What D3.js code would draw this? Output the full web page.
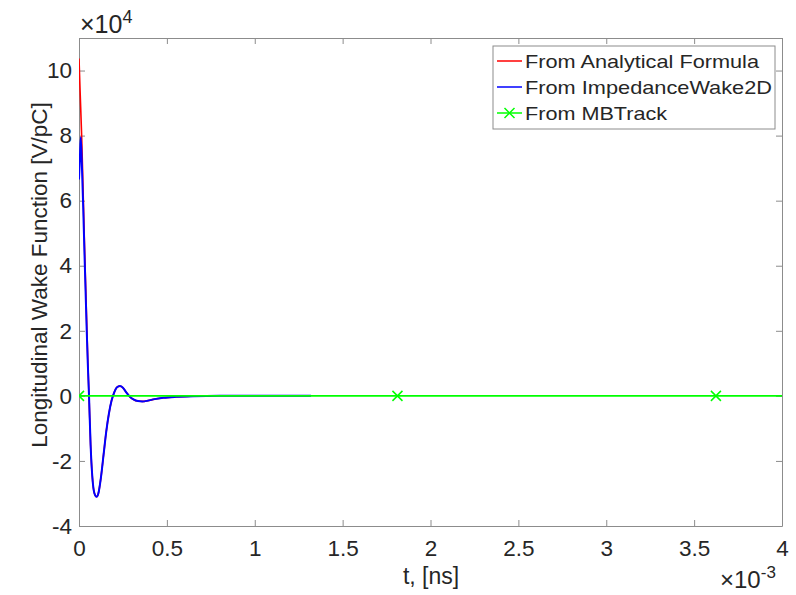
<!DOCTYPE html>
<html>
<head>
<meta charset="utf-8">
<script src="https://cdn.jsdelivr.net/npm/d3@7"></script>
<style>
    body { margin: 0; background: #fff; }
    text { font-family: "Liberation Sans", Arial, sans-serif; fill: #262626; }
</style>
</head>
<body>
<div id="chart"></div>
<script>
// time in units of 1e-3 ns, wake in units of 1e4 V/pC
const analyticalT = [0, 0.006, 0.015, 0.021, 0.028, 0.035, 0.043, 0.05, 0.057, 0.066, 0.076, 0.088, 0.1, 0.11, 0.125, 0.14, 0.155, 0.17, 0.185, 0.2, 0.215, 0.233, 0.25, 0.27, 0.29, 0.31, 0.335, 0.36, 0.39, 0.43, 0.48, 0.55, 0.65, 0.75];
const analyticalW = [10.37, 9.4, 8.0, 6.8, 5.3, 3.9, 2.4, 1.1, 0, -1.5, -2.5, -3.0, -3.1, -3.0, -2.5, -1.8, -1.1, -0.55, -0.15, 0.1, 0.26, 0.3, 0.25, 0.1, -0.03, -0.11, -0.16, -0.17, -0.15, -0.1, -0.06, -0.03, -0.01, 0];

const iw2dT = [0, 0.005, 0.01, 0.017, 0.024, 0.03, 0.037, 0.044, 0.05, 0.057, 0.066, 0.076, 0.088, 0.1, 0.11, 0.125, 0.14, 0.155, 0.17, 0.185, 0.2, 0.215, 0.233, 0.25, 0.27, 0.29, 0.31, 0.335, 0.36, 0.39, 0.43, 0.48, 0.55, 0.65, 0.8, 1.0, 1.32];
const iw2dW = [6.65, 7.3, 7.95, 7.0, 5.8, 4.6, 3.3, 2.0, 1.0, 0, -1.5, -2.5, -3.0, -3.1, -3.0, -2.5, -1.8, -1.1, -0.55, -0.15, 0.1, 0.26, 0.3, 0.25, 0.1, -0.03, -0.11, -0.16, -0.17, -0.15, -0.1, -0.06, -0.03, -0.01, 0, 0, 0];

const mbtrackT = [0, 1.812, 3.624, 5.436];
const mbtrackW = [0, 0, 0, 0];

const seriesNames = ["From Analytical Formula", "From ImpedanceWake2D", "From MBTrack"];
const seriesColours = ["#ff0000", "#0000ff", "#00ff00"];

const xTicks = [0, 0.5, 1, 1.5, 2, 2.5, 3, 3.5, 4];
const yTicks = [-4, -2, 0, 2, 4, 6, 8, 10];

const width = 796;
const height = 595;
const margin = { left: 79, right: 14, top: 38, bottom: 69 };
const axisColour = "#8c8c8c";

const svg = d3.select("#chart").append("svg")
    .attr("width", width)
    .attr("height", height)
    .style("background", "#fff");

const x = d3.scaleLinear().domain([0, 4]).range([margin.left, width - margin.right]);
const y = d3.scaleLinear().domain([-4, 11]).range([height - margin.bottom, margin.top]);

svg.append("clipPath").attr("id", "plotClip")
    .append("rect")
    .attr("x", x(0)).attr("y", y(11))
    .attr("width", x(4) - x(0)).attr("height", y(-4) - y(11));

// axes, ticks pointing inwards on all four sides
const fmt = d => String(d);
const bottomAxis = svg.append("g")
    .attr("transform", "translate(0," + y(-4) + ")")
    .call(d3.axisBottom(x).tickValues(xTicks).tickFormat(fmt).tickSizeInner(-6).tickSizeOuter(0).tickPadding(14));
const leftAxis = svg.append("g")
    .attr("transform", "translate(" + x(0) + ",0)")
    .call(d3.axisLeft(y).tickValues(yTicks).tickFormat(fmt).tickSizeInner(-6).tickSizeOuter(0).tickPadding(7));
const topAxis = svg.append("g")
    .attr("transform", "translate(0," + y(11) + ")")
    .call(d3.axisTop(x).tickValues(xTicks).tickFormat("").tickSizeInner(-6).tickSizeOuter(0));
const rightAxis = svg.append("g")
    .attr("transform", "translate(" + x(4) + ",0)")
    .call(d3.axisRight(y).tickValues(yTicks).tickFormat("").tickSizeInner(-6).tickSizeOuter(0));

[bottomAxis, leftAxis, topAxis, rightAxis].forEach(function(g) {
    g.selectAll("path, line").attr("stroke", axisColour).attr("stroke-width", 1);
    g.selectAll("text")
        .style("font-size", "22.5px")
        .style("font-family", "'Liberation Sans', Arial, sans-serif")
        .attr("fill", "#262626");
});

// data lines
const line = d3.line()
    .x(d => x(d[0]))
    .y(d => y(d[1]))
    .curve(d3.curveMonotoneX);

const plot = svg.append("g").attr("clip-path", "url(#plotClip)");

const analytical = analyticalT.map((t, i) => [t, analyticalW[i]]);
const iw2d = iw2dT.map((t, i) => [t, iw2dW[i]]);
const mbtrack = mbtrackT.map((t, i) => [t, mbtrackW[i]]);

plot.append("path").datum(analytical)
    .attr("fill", "none").attr("stroke", seriesColours[0]).attr("stroke-width", 1.6)
    .attr("d", line);
plot.append("path").datum(iw2d)
    .attr("fill", "none").attr("stroke", seriesColours[1]).attr("stroke-width", 2)
    .attr("d", line);
plot.append("path").datum(mbtrack)
    .attr("fill", "none").attr("stroke", seriesColours[2]).attr("stroke-width", 1.8)
    .attr("d", d3.line().x(d => x(d[0])).y(d => y(d[1])));

function drawX(g, cx, cy) {
    const s = 5;
    g.append("path")
        .attr("d", "M" + (cx - s) + "," + (cy - s) + "L" + (cx + s) + "," + (cy + s) +
                   "M" + (cx - s) + "," + (cy + s) + "L" + (cx + s) + "," + (cy - s))
        .attr("stroke", seriesColours[2]).attr("stroke-width", 1.5).attr("fill", "none");
}
mbtrack.forEach(d => drawX(plot, x(d[0]), y(d[1])));

// legend
const legend = svg.append("g");
legend.append("rect")
    .attr("x", 493).attr("y", 46).attr("width", 282).attr("height", 83)
    .attr("fill", "#fff").attr("stroke", axisColour).attr("stroke-width", 1);

const legendWidths = [234, 247, 142];
seriesNames.forEach(function(name, i) {
    const ly = 61 + i * 26;
    legend.append("line")
        .attr("x1", 497).attr("x2", 522).attr("y1", ly).attr("y2", ly)
        .attr("stroke", seriesColours[i]).attr("stroke-width", 1.5);
    if (i === 2) drawX(legend, 509.5, ly);
    legend.append("text")
        .attr("x", 525).attr("y", ly + 7)
        .attr("textLength", legendWidths[i])
        .attr("lengthAdjust", "spacingAndGlyphs")
        .style("font-size", "18.5px")
        .text(name);
});

// axis labels
svg.append("text")
    .attr("x", 431).attr("y", 584)
    .style("text-anchor", "middle")
    .style("font-size", "23px")
    .text("t, [ns]");

svg.append("text")
    .attr("transform", "translate(47," + 275 + ") rotate(-90)")
    .style("text-anchor", "middle")
    .style("font-size", "22.5px")
    .text("Longitudinal Wake Function [V/pC]");

// exponent labels
const expTop = svg.append("text").attr("x", 80).attr("y", 33).style("font-size", "25px");
expTop.append("tspan").text("\u00d710");
expTop.append("tspan").attr("dy", -10).style("font-size", "18px").text("4");

const expBottom = svg.append("text").attr("x", 720).attr("y", 588).style("font-size", "24px");
expBottom.append("tspan").text("\u00d710");
expBottom.append("tspan").attr("dy", -10).style("font-size", "17px").text("-3");
</script>
</body>
</html>
